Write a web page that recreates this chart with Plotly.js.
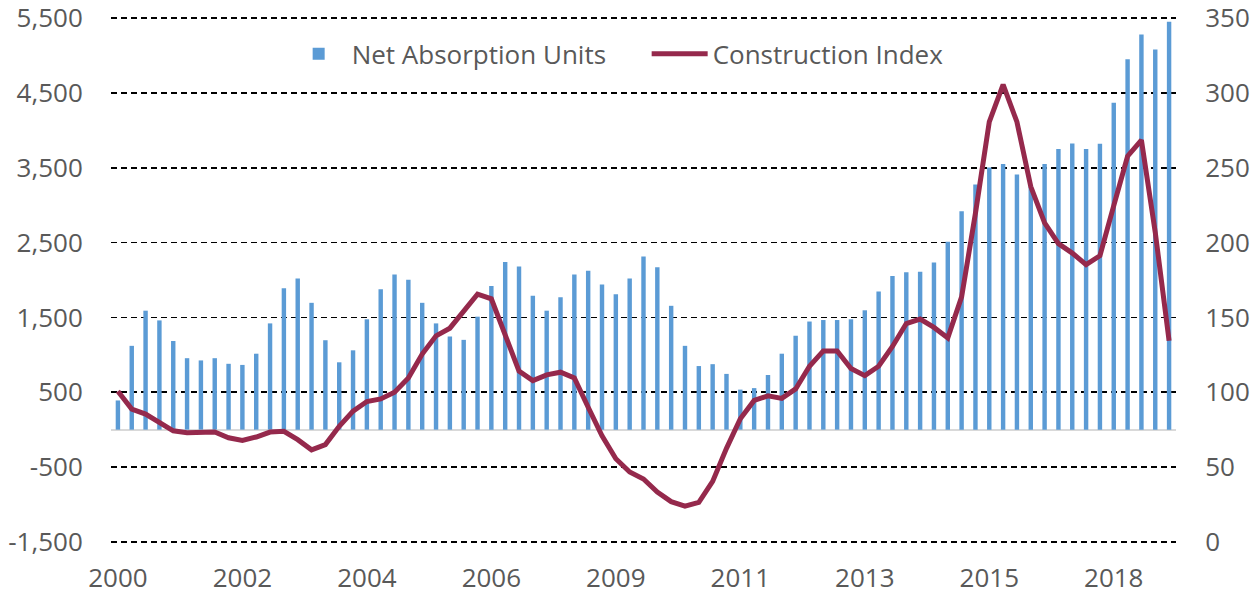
<!DOCTYPE html>
<html>
<head>
<meta charset="utf-8">
<script src="https://cdn.plot.ly/plotly-3.0.1.min.js"></script>
<style>
  html, body { margin: 0; padding: 0; background: #ffffff; }
  #chart { width: 1260px; height: 594px; }
</style>
</head>
<body>
<div id="chart"></div>
<script>
// Quarterly categories, 2000 Q1 .. 2019 Q1
const quarters = [
  "2000 Q1","2000 Q2","2000 Q3","2000 Q4",
  "2001 Q1","2001 Q2","2001 Q3","2001 Q4",
  "2002 Q1","2002 Q2","2002 Q3","2002 Q4",
  "2003 Q1","2003 Q2","2003 Q3","2003 Q4",
  "2004 Q1","2004 Q2","2004 Q3","2004 Q4",
  "2005 Q1","2005 Q2","2005 Q3","2005 Q4",
  "2006 Q1","2006 Q2","2006 Q3","2006 Q4",
  "2007 Q1","2007 Q2","2007 Q3","2007 Q4",
  "2008 Q1","2008 Q2","2008 Q3","2008 Q4",
  "2009 Q1","2009 Q2","2009 Q3","2009 Q4",
  "2010 Q1","2010 Q2","2010 Q3","2010 Q4",
  "2011 Q1","2011 Q2","2011 Q3","2011 Q4",
  "2012 Q1","2012 Q2","2012 Q3","2012 Q4",
  "2013 Q1","2013 Q2","2013 Q3","2013 Q4",
  "2014 Q1","2014 Q2","2014 Q3","2014 Q4",
  "2015 Q1","2015 Q2","2015 Q3","2015 Q4",
  "2016 Q1","2016 Q2","2016 Q3","2016 Q4",
  "2017 Q1","2017 Q2","2017 Q3","2017 Q4",
  "2018 Q1","2018 Q2","2018 Q3","2018 Q4",
  "2019 Q1"
];

// Net Absorption Units (left axis)
const netAbsorption = [
  390, 1120, 1590, 1460,
  1185, 955, 925, 955,
  880, 865, 1015, 1420,
  1890, 2020, 1695, 1195,
  900, 1060, 1475, 1875,
  2075, 2005, 1695, 1420,
  1245, 1200, 1510, 1920,
  2240, 2180, 1790, 1590,
  1770, 2075, 2125, 1940,
  1810, 2020, 2315, 2170,
  1655, 1120, 850, 875,
  745, 535, 555, 730,
  1015, 1255, 1445, 1465,
  1465, 1475, 1595, 1845,
  2055, 2105, 2110, 2235,
  2510, 2920, 3275, 3505,
  3550, 3410, 3250, 3550,
  3750, 3825, 3750, 3820,
  4370, 4950, 5280, 5080,
  5450
];

// Construction Index (right axis)
const constructionIndex = [
  100.6, 88.7, 85.4, 79.8,
  74.2, 73.0, 73.0, 73.4,
  69.6, 67.8, 70.1, 73.4,
  73.9, 68.3, 61.5, 65.0,
  77.2, 87.4, 93.8, 95.5,
  100.0, 109.5, 125.5, 137.7,
  142.8, 154.8, 165.5, 162.4,
  138.2, 114.1, 107.8, 111.6,
  113.4, 109.5, 90.0, 70.9,
  55.6, 46.7, 42.0, 33.3,
  26.9, 23.9, 26.4, 40.4,
  62.5, 82.3, 94.5, 97.6,
  95.9, 102.2, 117.4, 127.6,
  127.6, 115.9, 111.1, 117.4,
  130.6, 145.9, 148.9, 143.3,
  136.3, 163.7, 219.6, 280.6,
  305.5, 280.6, 237.4, 213.2,
  199.3, 193.0, 185.3, 191.2,
  224.7, 257.7, 268.4, 206.9,
  134.4
];

// Tick labels
const xTickVals = ["2000 Q1","2002 Q2","2004 Q3","2006 Q4","2009 Q1","2011 Q2","2013 Q3","2015 Q4","2018 Q1"];
const xTickText = ["2000","2002","2004","2006","2009","2011","2013","2015","2018"];
const yTickVals = [-1500, -500, 500, 1500, 2500, 3500, 4500, 5500];
const yTickText = ["-1,500", "-500", "500", "1,500", "2,500", "3,500", "4,500", "5,500"];
const y2TickVals = [0, 50, 100, 150, 200, 250, 300, 350];
const y2TickText = ["0", "50", "100", "150", "200", "250", "300", "350"];

const fontFamily = "'Open Sans', 'Liberation Sans', sans-serif";
const textColor = "#595959";

const traces = [
  {
    type: "bar",
    name: "Net Absorption Units",
    x: quarters,
    y: netAbsorption,
    marker: { color: "#5B9BD5" },
    yaxis: "y",
    hoverinfo: "x+y"
  },
  {
    type: "scatter",
    mode: "lines",
    name: "Construction Index",
    x: quarters,
    y: constructionIndex,
    yaxis: "y2",
    line: { color: "#95294C", width: 5, shape: "linear" },
    hoverinfo: "x+y"
  }
];

const layout = {
  width: 1260,
  height: 594,
  margin: { l: 111, r: 84, t: 17, b: 51, pad: 0 },
  paper_bgcolor: "#ffffff",
  plot_bgcolor: "#ffffff",
  font: { family: fontFamily, size: 26, color: textColor },
  bargap: 0.68,
  showlegend: true,
  legend: {
    orientation: "h",
    x: 0.164,
    xanchor: "left",
    y: 0.93,
    yanchor: "middle",
    font: { family: fontFamily, size: 26, color: textColor },
    bgcolor: "rgba(0,0,0,0)",
    itemwidth: 56,
    entrywidth: 290,
    traceorder: "normal"
  },
  xaxis: {
    type: "category",
    categoryorder: "array",
    categoryarray: quarters,
    tickmode: "array",
    tickvals: xTickVals,
    ticktext: xTickText,
    ticks: "outside",
    ticklen: 12,
    tickcolor: "rgba(0,0,0,0)",
    showgrid: false,
    zeroline: false,
    showline: false,
    ticklabeloverflow: "allow",
    tickfont: { family: fontFamily, size: 26, color: textColor }
  },
  yaxis: {
    range: [-1515, 5515],
    tickmode: "array",
    tickvals: yTickVals,
    ticktext: yTickText,
    ticks: "outside",
    ticklen: 22,
    tickcolor: "rgba(0,0,0,0)",
    showgrid: true,
    gridcolor: "#000000",
    gridwidth: 1.6,
    griddash: "6px,4px",
    zeroline: true,
    zerolinecolor: "#d9d9d9",
    zerolinewidth: 2,
    showline: false,
    ticklabeloverflow: "allow",
    tickfont: { family: fontFamily, size: 26, color: textColor }
  },
  yaxis2: {
    range: [-0.75, 350.75],
    overlaying: "y",
    side: "right",
    tickmode: "array",
    tickvals: y2TickVals,
    ticktext: y2TickText,
    ticks: "outside",
    ticklen: 23,
    tickcolor: "rgba(0,0,0,0)",
    showgrid: false,
    zeroline: false,
    showline: false,
    ticklabeloverflow: "allow",
    tickfont: { family: fontFamily, size: 26, color: textColor }
  }
};

Plotly.newPlot("chart", traces, layout, { displayModeBar: false, staticPlot: true });
</script>
</body>
</html>
